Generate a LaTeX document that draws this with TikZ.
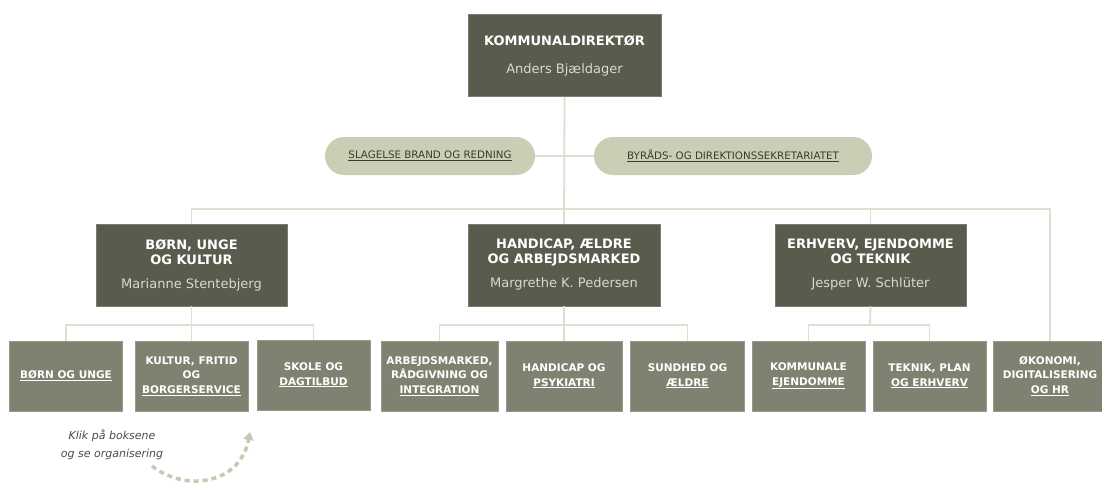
\documentclass[tikz,border=0pt]{standalone}
\usepackage{fontspec}
\setmainfont{DejaVu Sans}
\usetikzlibrary{arrows.meta}
\definecolor{darkbox}{HTML}{5A5B4C}
\definecolor{subbox}{HTML}{7F8171}
\definecolor{pillc}{HTML}{C9CEB4}
\definecolor{connc}{HTML}{DFDFD0}
\definecolor{namec}{HTML}{D9D9D0}
\definecolor{pilltext}{HTML}{3B3B33}
\definecolor{handc}{HTML}{4A4A55}
\definecolor{arrowc}{HTML}{C5C9B0}
\newcommand{\tfont}{\fontsize{13}{15}\selectfont\bfseries\color{white}}
\newcommand{\nfont}{\fontsize{13}{15}\selectfont\mdseries\color{namec}}
\newcommand{\sfnt}{\fontsize{10.5}{14.5}\selectfont\bfseries\color{white}}
\tikzset{
  dirbox/.style={fill=darkbox, draw=darkbox!80!white, line width=0.6pt, inner sep=0pt, align=center, minimum height=82pt, font=\fontsize{13}{15}\selectfont},
  unitbox/.style={fill=subbox, draw=subbox!80!white, line width=0.6pt, inner sep=0pt, align=center, minimum height=70pt, font=\sfnt},
  pillbox/.style={fill=pillc, rounded corners=19pt, inner sep=0pt, minimum height=38pt, font=\fontsize{10.3}{12}\selectfont\color{pilltext}},
  conn/.style={draw=connc, line width=1.8pt},
  hintarrow/.style={draw=arrowc, line width=3.5pt, dash pattern=on 5pt off 4pt, -{Triangle[length=8pt,width=10pt]}},
}
\begin{document}
\begin{tikzpicture}[x=1pt,y=-1pt]
\useasboundingbox (0,0) rectangle (1102,482);
\clip (0,0) rectangle (1102,482);
\fill[white] (0,0) rectangle (1102,482);

% coordinates for buses
\coordinate (b1) at (191.5,209);
\coordinate (b2) at (1050,209);
\coordinate (jL) at (191.5,325);
\coordinate (jM) at (564,325);
\coordinate (jR) at (870,325);

% nodes
\node[dirbox, minimum width=193pt] (top) at (564.5,55.5) {\tfont KOMMUNALDIREKTØR\\[13pt]\nfont Anders Bjældager};
\node[pillbox, minimum width=210pt] (pL) at (430,156) {\underline{SLAGELSE BRAND OG REDNING}};
\node[pillbox, minimum width=278pt] (pR) at (733,156) {\underline{BYRÅDS- OG DIREKTIONSSEKRETARIATET}};

\node[dirbox, minimum width=191pt] (dL) at (191.5,265) {\tfont BØRN, UNGE\\\tfont OG KULTUR\\[9pt]\nfont Marianne Stentebjerg};
\node[dirbox, minimum width=192pt] (dM) at (564,265) {\tfont HANDICAP, ÆLDRE\\\tfont OG ARBEJDSMARKED\\[9pt]\nfont Margrethe K. Pedersen};
\node[dirbox, minimum width=191pt] (dR) at (870.5,265) {\tfont ERHVERV, EJENDOMME\\\tfont OG TEKNIK\\[9pt]\nfont Jesper W. Schlüter};

\node[unitbox, minimum width=113pt] (s1) at (66,376) {\underline{BØRN OG UNGE}};
\node[unitbox, minimum width=113pt] (s2) at (191.5,376) {KULTUR, FRITID\\OG\\\underline{BORGERSERVICE}};
\node[unitbox, minimum width=113pt] (s3) at (313.5,375) {SKOLE OG\\\underline{DAGTILBUD}};
\node[unitbox, minimum width=117pt] (s4) at (439.5,376) {ARBEJDSMARKED,\\RÅDGIVNING OG\\\underline{INTEGRATION}};
\node[unitbox, minimum width=116pt] (s5) at (564,376) {HANDICAP OG\\\underline{PSYKIATRI}};
\node[unitbox, minimum width=114pt] (s6) at (687.5,376) {SUNDHED OG\\\underline{ÆLDRE}};
\node[unitbox, minimum width=113pt] (s7) at (808.5,376) {KOMMUNALE\\\underline{EJENDOMME}};
\node[unitbox, minimum width=113pt] (s8) at (929.5,376) {TEKNIK, PLAN\\\underline{OG ERHVERV}};
\node[unitbox, minimum width=114pt] (s9) at (1050,376) {ØKONOMI,\\DIGITALISERING\\\underline{OG HR}};

% connectors
\draw[conn] (top.south) -- (dM.north);
\draw[conn] (pL.east) -- (pR.west);
\draw[conn] (dL.north) -- (b1) -- (b2) -- (s9.north);
\draw[conn] (dR.north) -- (dR.north |- b1);
\draw[conn] (dL.south) -- (s2.north);
\draw[conn] (s1.north) |- (jL) -| (s3.north);
\draw[conn] (dM.south) -- (s5.north);
\draw[conn] (s4.north) |- (jM) -| (s6.north);
\draw[conn] (dR.south) -- (jR);
\draw[conn] (s7.north) |- (jR) -| (s8.north);

% hint
\node[font=\fontsize{11}{18}\selectfont\itshape, text=handc, align=center] (hint) at (112,445) {Klik på boksene\\og se organisering};
\coordinate (hs) at (152,466);
\coordinate (he) at (250,432);
\draw[hintarrow] (hs) .. controls (185,492) and (240,485) .. (he);
\end{tikzpicture}
\end{document}
